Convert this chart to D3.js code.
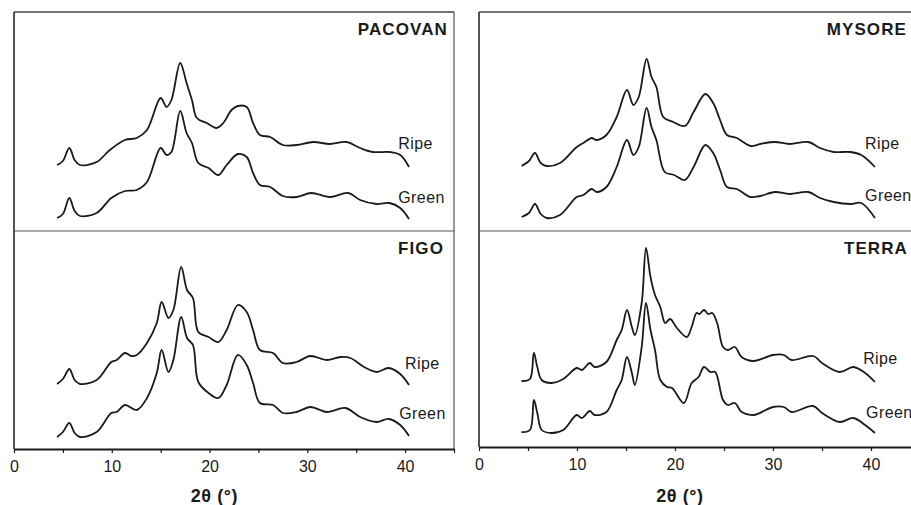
<!DOCTYPE html>
<html>
<head>
<meta charset="utf-8">
<script src="https://cdn.jsdelivr.net/npm/d3@7"></script>
<style>
  body { margin: 0; background: #fff; }
  svg { display: block; font-family: "Liberation Sans", Arial, sans-serif; }
</style>
</head>
<body>
<svg id="chart" width="911" height="505"></svg>
<script>
// XRD patterns, 2theta vs intensity (arbitrary units, traces stacked)
const xTicks = [0, 5, 10, 15, 20, 25, 30, 35, 40, 45];
const seriesNames = ["Ripe", "Green"];
const panelNames = ["PACOVAN", "MYSORE", "FIGO", "TERRA"];

const pacovanRipe = [[4.4,66],[5.0,70],[5.66,83],[6.2,71],[6.75,66],[8.45,69],[9.8,81],[11.35,91],[12.55,93],[13.6,101],[15.0,133],[15.6,124],[16.1,131],[17.0,168],[17.65,148],[18.2,131],[18.7,113],[19.7,108],[20.7,103],[21.4,108],[22.25,121],[22.9,125],[23.8,124],[24.45,108],[25.15,96],[26.2,94],[27.5,86],[28.9,86],[30.6,89],[32.3,87],[34.0,89],[35.4,83],[36.7,79],[38.4,79],[39.5,76],[40.4,64]];
const pacovanGreen = [[4.4,13],[5.0,17],[5.66,33],[6.2,20],[6.75,15],[8.45,18],[9.95,33],[11.35,40],[12.55,41],[13.6,49],[15.0,83],[15.6,76],[16.1,79],[17.0,120],[17.65,98],[18.2,88],[18.85,68],[19.9,63],[20.9,56],[21.75,66],[22.9,77],[23.8,74],[24.45,58],[25.15,46],[26.2,44],[27.5,35],[28.9,34],[30.4,38],[32.3,34],[34.2,38],[35.4,31],[37.1,27],[38.4,28],[39.5,23],[40.4,12]];

const mysoreRipe = [[4.35,65],[5.1,70],[5.71,78],[6.3,68],[6.9,65],[8.27,68],[9.97,84],[10.65,88],[11.5,93],[12.0,91],[13.0,96],[14.05,114],[15.1,141],[15.75,126],[16.3,134],[17.1,172],[17.6,154],[18.1,144],[18.8,114],[19.8,109],[21.0,105],[21.9,119],[23.1,137],[23.9,128],[24.6,111],[25.3,96],[26.3,93],[27.7,85],[28.7,87],[30.2,89],[31.7,87],[33.6,89],[34.8,83],[36.2,79],[37.9,79],[39.0,76],[40.4,64]];
const mysoreGreen = [[4.35,14],[5.1,18],[5.71,27],[6.3,17],[6.9,13],[8.27,16],[9.97,34],[10.65,36],[11.5,42],[12.0,39],[13.0,44],[14.05,64],[15.1,91],[15.75,76],[16.3,84],[17.1,123],[17.6,104],[18.1,91],[18.95,59],[19.9,56],[21.0,51],[21.9,64],[23.1,86],[23.9,78],[24.6,61],[25.3,44],[26.3,42],[27.7,34],[28.7,35],[30.2,39],[31.7,37],[33.6,39],[34.8,33],[36.2,29],[37.9,27],[39.0,28],[40.4,13]];

const figoRipe = [[4.4,65],[5.0,70],[5.66,80],[6.2,69],[6.75,65],[8.45,69],[9.95,87],[10.5,89],[11.35,96],[12.0,93],[12.55,94],[13.6,106],[14.6,126],[15.1,147],[15.8,131],[16.3,139],[17.1,182],[17.7,159],[18.3,151],[18.85,117],[19.9,112],[20.9,107],[21.75,119],[22.9,144],[23.8,137],[24.45,119],[25.15,99],[26.5,96],[27.5,86],[28.9,87],[30.3,93],[32.0,89],[33.4,92],[34.4,91],[35.8,82],[37.1,77],[38.3,81],[39.5,75],[40.4,64]];
const figoGreen = [[4.4,12],[5.0,17],[5.66,26],[6.2,16],[6.75,12],[8.45,17],[9.95,36],[10.5,37],[11.35,44],[12.55,39],[13.6,51],[14.6,76],[15.1,99],[15.8,77],[16.3,89],[17.1,132],[17.7,111],[18.3,104],[18.85,67],[19.9,56],[20.9,51],[21.75,64],[22.9,94],[23.8,84],[24.45,66],[25.15,46],[26.5,44],[27.5,36],[28.9,37],[30.3,42],[32.0,37],[33.9,41],[35.4,32],[37.1,27],[38.3,30],[39.5,24],[40.4,13]];

const terraRipe = [[4.35,66],[5.2,68],[5.6,94],[5.95,80],[6.4,67],[7.4,64],[8.6,68],[9.97,79],[10.5,77],[11.3,84],[11.8,80],[13.0,85],[14.05,107],[14.56,117],[15.1,137],[15.6,120],[15.9,112],[16.6,144],[17.04,199],[17.5,170],[17.96,152],[18.5,140],[19.0,124],[19.5,128],[20.2,119],[21.2,110],[21.7,120],[22.2,134],[22.5,133],[22.96,137],[23.4,133],[23.8,134],[24.3,124],[24.9,100],[25.4,97],[26.1,100],[26.8,90],[28.0,86],[30.0,92],[31.1,92],[31.9,87],[34.1,91],[35.0,84],[36.8,75],[38.2,80],[39.4,74],[40.4,65]];
const terraGreen = [[4.35,15],[5.2,17],[5.6,47],[5.95,34],[6.4,17],[7.4,14],[8.6,17],[9.97,32],[10.5,29],[11.3,36],[11.8,32],[13.0,35],[14.05,57],[14.56,67],[15.1,90],[15.6,74],[15.9,62],[16.6,100],[17.04,144],[17.5,117],[17.96,97],[18.5,67],[19.2,60],[19.7,59],[20.9,44],[21.7,64],[22.4,70],[22.96,80],[23.6,75],[24.1,75],[24.9,47],[25.4,42],[26.1,44],[26.8,35],[28.0,32],[30.0,40],[31.1,40],[31.9,35],[34.1,41],[35.0,34],[36.8,25],[38.2,29],[39.4,22],[40.4,14]];

const svg = d3.select("#chart");

// layout of the 2x2 grid
const cols = [{ left: 14, right: 454 }, { left: 479, right: 920 }];
const top0 = 12, mid = 231;
const bottoms = [449, 447];

const panels = [
  { name: panelNames[0], col: 0, row: 0, series: [pacovanRipe, pacovanGreen], lab: [[39.3, 82], [39.3, 28]], titleRight: 448 },
  { name: panelNames[1], col: 1, row: 0, series: [mysoreRipe, mysoreGreen], lab: [[39.4, 82], [39.4, 30]], titleRight: 907 },
  { name: panelNames[2], col: 0, row: 1, series: [figoRipe, figoGreen], lab: [[40.0, 80], [39.4, 30]], titleRight: 444 },
  { name: panelNames[3], col: 1, row: 1, series: [terraRipe, terraGreen], lab: [[39.2, 83], [39.5, 29]], titleRight: 908 }
];

const ink = "#1a1a1a";

cols.forEach((c, ci) => {
  const x = d3.scaleLinear().domain([0, 45]).range([c.left, c.right]);
  const bottom = bottoms[ci];
  const g = svg.append("g");

  // frame
  g.append("line").attr("x1", c.left).attr("x2", c.left).attr("y1", top0).attr("y2", bottom)
    .attr("stroke", ink).attr("stroke-width", 1.5);
  g.append("line").attr("x1", c.right).attr("x2", c.right).attr("y1", top0).attr("y2", bottom)
    .attr("stroke", "#555").attr("stroke-width", 1.2);
  g.append("line").attr("x1", c.left).attr("x2", c.right).attr("y1", top0).attr("y2", top0)
    .attr("stroke", "#444").attr("stroke-width", 1.5);
  g.append("line").attr("x1", c.left).attr("x2", c.right).attr("y1", mid).attr("y2", mid)
    .attr("stroke", "#555").attr("stroke-width", 1.2);

  // x axis
  const axis = g.append("g")
    .attr("transform", `translate(0,${bottom})`)
    .call(d3.axisBottom(x).tickValues(xTicks).tickSize(4).tickPadding(8).tickSizeOuter(0)
      .tickFormat(d => d % 10 === 0 ? d : ""));
  axis.select(".domain").attr("stroke", ink).attr("stroke-width", 2);
  axis.selectAll(".tick line").attr("stroke", ink).attr("stroke-width", 1.2);
  axis.selectAll(".tick text")
    .style("font-size", "16px")
    .style("font-family", "'Liberation Sans', Arial, sans-serif")
    .attr("fill", ink);

  g.append("text")
    .attr("x", x(20.5))
    .attr("y", 502)
    .attr("text-anchor", "middle")
    .style("font-size", "18px")
    .style("font-weight", "bold")
    .style("letter-spacing", "0.6px")
    .attr("fill", ink)
    .text("2θ (°)");
});

panels.forEach(p => {
  const c = cols[p.col];
  const x = d3.scaleLinear().domain([0, 45]).range([c.left, c.right]);
  const bottom = p.row === 0 ? mid : bottoms[p.col];
  const top = p.row === 0 ? top0 : mid;
  const y = d3.scaleLinear().domain([0, bottom - top]).range([bottom, top]);

  const line = d3.line()
    .x(d => x(d[0]))
    .y(d => y(d[1]))
    .curve(d3.curveCatmullRom.alpha(0.5));

  const g = svg.append("g");

  g.selectAll("path.trace")
    .data(p.series)
    .join("path")
    .attr("class", "trace")
    .attr("d", line)
    .attr("fill", "none")
    .attr("stroke", ink)
    .attr("stroke-width", 1.8)
    .attr("stroke-linejoin", "round");

  g.selectAll("text.lab")
    .data(seriesNames)
    .join("text")
    .attr("class", "lab")
    .attr("x", (d, i) => x(p.lab[i][0]))
    .attr("y", (d, i) => y(p.lab[i][1]))
    .style("font-size", "16px")
    .style("letter-spacing", "0.4px")
    .attr("fill", ink)
    .text(d => d);

  g.append("text")
    .attr("x", p.titleRight)
    .attr("y", top + 23)
    .attr("text-anchor", "end")
    .style("font-size", "17px")
    .style("font-weight", "bold")
    .style("letter-spacing", "1.1px")
    .attr("fill", ink)
    .text(p.name);
});
</script>
</body>
</html>
